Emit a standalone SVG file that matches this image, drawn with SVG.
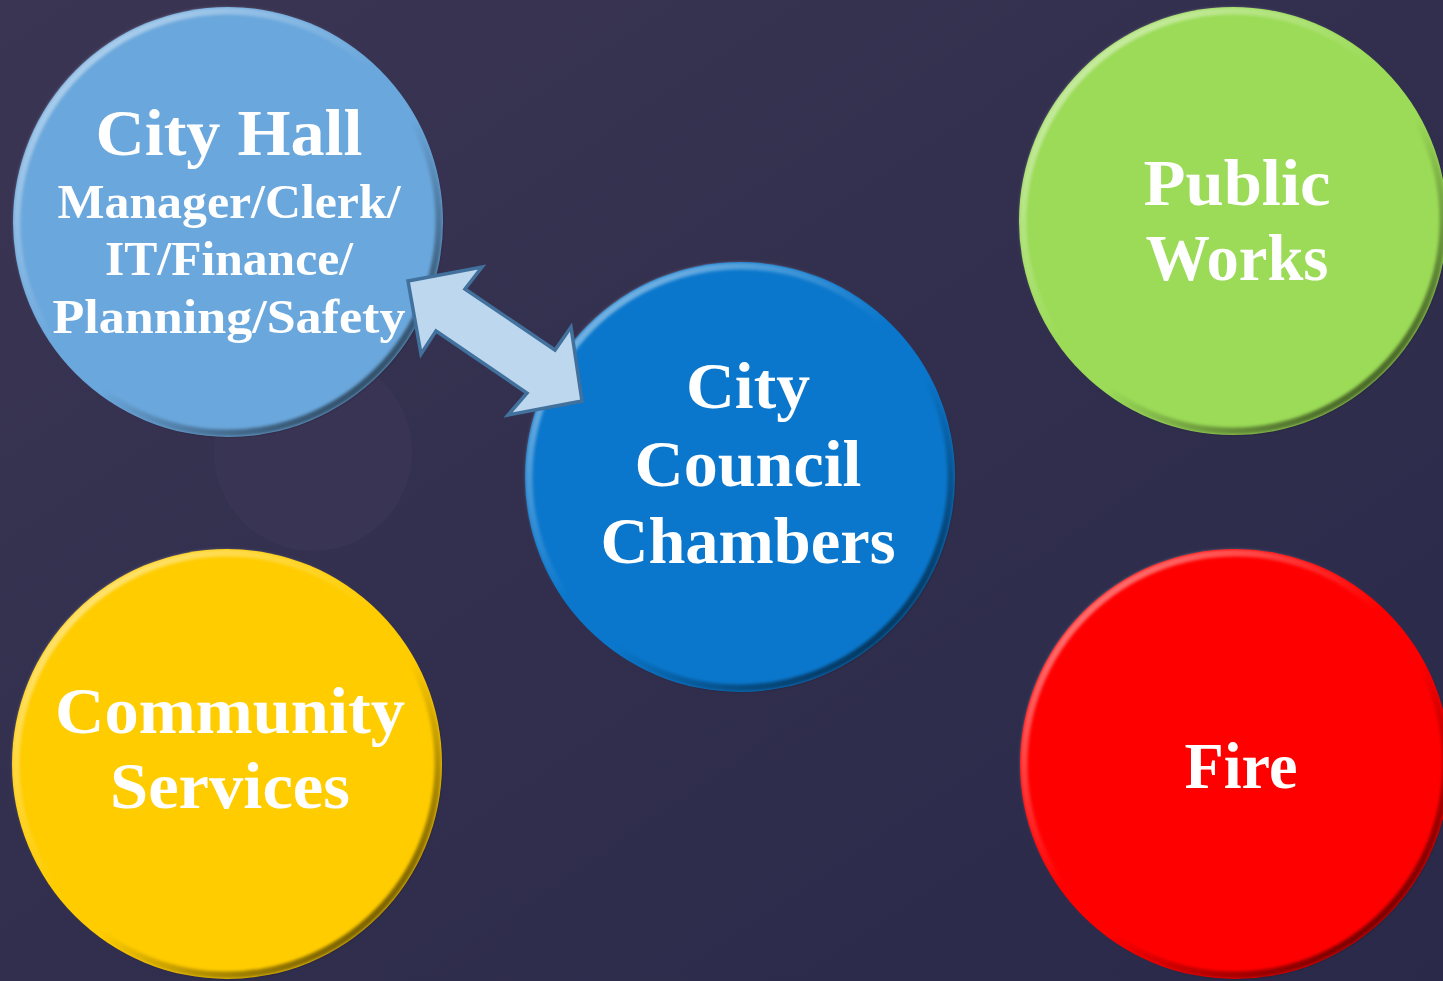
<svg xmlns="http://www.w3.org/2000/svg" width="1443" height="981" viewBox="0 0 1443 981">
<style>
.t{font-family:"Liberation Serif","Times New Roman",serif;font-weight:bold;fill:#ffffff;text-anchor:middle}
.big{font-size:66px}
.sub{font-size:49px}
.rim{fill:none;stroke-width:7;filter:url(#soft)}
</style>
<defs>
<linearGradient id="bg" x1="0" y1="0" x2="1" y2="1">
<stop offset="0" stop-color="#3a3553"/>
<stop offset="1" stop-color="#2a2949"/>
</linearGradient>
<linearGradient id="rimg" x1="0.15" y1="0.1" x2="0.85" y2="0.9">
<stop offset="0" stop-color="#ffffff" stop-opacity="0.45"/>
<stop offset="0.45" stop-color="#ffffff" stop-opacity="0"/>
<stop offset="0.6" stop-color="#000000" stop-opacity="0"/>
<stop offset="1" stop-color="#000000" stop-opacity="0.55"/>
</linearGradient>
<filter id="soft" x="-10%" y="-10%" width="120%" height="120%"><feGaussianBlur stdDeviation="1.8"/></filter>
</defs>
<rect x="0" y="0" width="1443" height="981" fill="url(#bg)"/>
<circle cx="313" cy="452" r="99" fill="#463f60" opacity="0.25"/>

<g id="city-hall">
<circle cx="228" cy="222" r="215" fill="#6aa7dc"/>
<circle cx="228" cy="222" r="211" class="rim" stroke="url(#rimg)"/>
<text class="t big" x="229" y="155" textLength="267" lengthAdjust="spacingAndGlyphs">City Hall</text>
<text class="t sub" x="229" y="218" textLength="343" lengthAdjust="spacingAndGlyphs">Manager/Clerk/</text>
<text class="t sub" x="229" y="275" textLength="248" lengthAdjust="spacingAndGlyphs">IT/Finance/</text>
<text class="t sub" x="229" y="333" textLength="353" lengthAdjust="spacingAndGlyphs">Planning/Safety</text>
</g>

<g id="public-works">
<circle cx="1233" cy="221" r="214" fill="#9bdb57"/>
<circle cx="1233" cy="221" r="210" class="rim" stroke="url(#rimg)"/>
<text class="t big" x="1237" y="205" textLength="187" lengthAdjust="spacingAndGlyphs">Public</text>
<text class="t big" x="1237" y="280" textLength="183" lengthAdjust="spacingAndGlyphs">Works</text>
</g>

<g id="city-council">
<circle cx="740" cy="477" r="215" fill="#0a77cc"/>
<circle cx="740" cy="477" r="211" class="rim" stroke="url(#rimg)"/>
<text class="t big" x="748" y="408" textLength="124" lengthAdjust="spacingAndGlyphs">City</text>
<text class="t big" x="748" y="486" textLength="227" lengthAdjust="spacingAndGlyphs">Council</text>
<text class="t big" x="748" y="563" textLength="295" lengthAdjust="spacingAndGlyphs">Chambers</text>
</g>

<g id="community-services">
<circle cx="227" cy="764" r="215" fill="#ffcc00"/>
<circle cx="227" cy="764" r="211" class="rim" stroke="url(#rimg)"/>
<text class="t big" x="230" y="733" textLength="350" lengthAdjust="spacingAndGlyphs">Community</text>
<text class="t big" x="230" y="808" textLength="240" lengthAdjust="spacingAndGlyphs">Services</text>
</g>

<g id="fire">
<circle cx="1235" cy="764" r="215" fill="#ff0000"/>
<circle cx="1235" cy="764" r="211" class="rim" stroke="url(#rimg)"/>
<text class="t big" x="1241" y="788" textLength="113" lengthAdjust="spacingAndGlyphs">Fire</text>
</g>

<g id="connectors">
<polygon points="408,281 482,267 465,289 555,350 571,327 582,401 508,415 527,393 436,331 421,354" fill="#bdd7ee" stroke="#41719c" stroke-width="3.5" stroke-linejoin="miter"/>
</g>
</svg>
